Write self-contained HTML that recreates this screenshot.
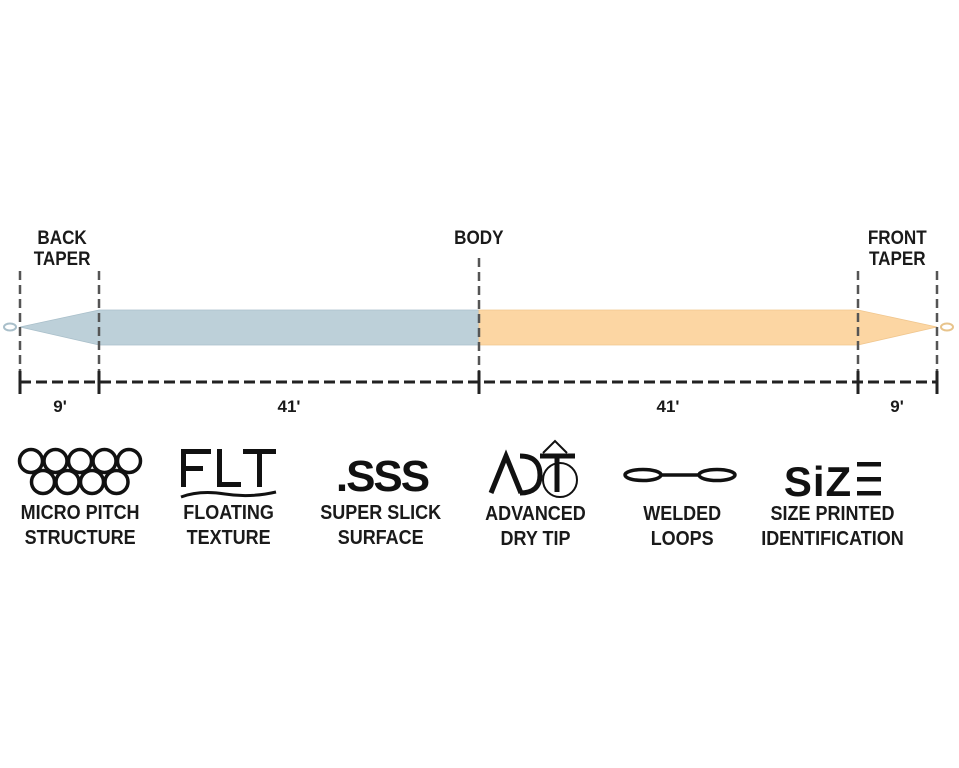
<!DOCTYPE html>
<html><head><meta charset="utf-8"><style>
html,body{margin:0;padding:0;background:#fff;}
svg{display:block;}
text{font-family:"Liberation Sans",sans-serif;font-weight:bold;fill:#1a1a1a;text-anchor:middle;}
</style></head><body>
<svg width="959" height="768" viewBox="0 0 959 768" xmlns="http://www.w3.org/2000/svg">
<rect width="959" height="768" fill="#fff"/>
<g transform="scale(0.9,1)">
<text x="69" y="244" style="font-size:19px">BACK</text>
<text x="69" y="265" style="font-size:19px">TAPER</text>
<text x="532" y="244" style="font-size:19px">BODY</text>
<text x="997" y="244" style="font-size:19px">FRONT</text>
<text x="997" y="265" style="font-size:19px">TAPER</text>
</g>
<polygon points="20,327 99,310 479,310 479,345 99,345" fill="#bdd0d9" stroke="#a9bfca" stroke-width="0.8"/>
<polygon points="479,310 858,310 937,327 858,345 479,345" fill="#fcd6a3" stroke="#f0c68e" stroke-width="0.8"/>
<ellipse cx="10" cy="327" rx="6" ry="3.5" fill="none" stroke="#a9bfca" stroke-width="2"/>
<ellipse cx="947" cy="327" rx="6" ry="3.5" fill="none" stroke="#e8c48c" stroke-width="2"/>
<g stroke="#555" stroke-width="2.5" stroke-dasharray="9,5">
<line x1="20" y1="271" x2="20" y2="372"/>
<line x1="99" y1="271" x2="99" y2="372"/>
<line x1="479" y1="258" x2="479" y2="372"/>
<line x1="858" y1="271" x2="858" y2="372"/>
<line x1="937" y1="271" x2="937" y2="372"/>
</g>
<line x1="20" y1="382" x2="937" y2="382" stroke="#222" stroke-width="3" stroke-dasharray="11,5"/>
<g stroke="#222" stroke-width="3">
<line x1="20" y1="371" x2="20" y2="394"/>
<line x1="99" y1="371" x2="99" y2="394"/>
<line x1="479" y1="371" x2="479" y2="394"/>
<line x1="858" y1="371" x2="858" y2="394"/>
<line x1="937" y1="371" x2="937" y2="394"/>
</g>
<g style="font-size:17px">
<text x="60" y="412">9'</text>
<text x="289" y="412">41'</text>
<text x="668" y="412">41'</text>
<text x="897" y="412">9'</text>
</g>
<g fill="none" stroke="#111" stroke-width="3.5">
<circle cx="31" cy="461" r="11.5"/><circle cx="55.5" cy="461" r="11.5"/><circle cx="80" cy="461" r="11.5"/><circle cx="104.5" cy="461" r="11.5"/><circle cx="129" cy="461" r="11.5"/>
<circle cx="43" cy="482" r="11.5"/><circle cx="67.5" cy="482" r="11.5"/><circle cx="92" cy="482" r="11.5"/><circle cx="116.5" cy="482" r="11.5"/>
</g>
<g fill="#111">
<rect x="181" y="449" width="30" height="5"/><rect x="181" y="449" width="5" height="38"/><rect x="181" y="466" width="22" height="5"/>
<rect x="217" y="449" width="5" height="38"/><rect x="217" y="482" width="24" height="5"/>
<rect x="243" y="449" width="33" height="5"/><rect x="257" y="449" width="5" height="38"/>
</g>
<path d="M181,497 Q200,490 225,494 T276,492" fill="none" stroke="#111" stroke-width="3"/>
<text x="382" y="491" style="font-size:44px;letter-spacing:-2px;fill:#111">.SSS</text>
<g fill="none" stroke="#111" stroke-width="5">
<path d="M491,493 L506,456 L521,493"/>
<path d="M520,456 Q540,456 540,475 Q540,493 520,493"/>
<line x1="540" y1="456" x2="575" y2="456"/>
<line x1="557" y1="456" x2="557" y2="492"/>
</g>
<circle cx="560" cy="480" r="17" fill="none" stroke="#111" stroke-width="2"/>
<path d="M543,453 L555,441 L567,453" fill="none" stroke="#111" stroke-width="2"/>
<g fill="none" stroke="#111" stroke-width="3.5">
<ellipse cx="643" cy="475" rx="18" ry="5.5"/>
<ellipse cx="717" cy="475" rx="18" ry="5.5"/>
<line x1="660" y1="475" x2="700" y2="475"/>
</g>
<text x="818" y="496" style="font-size:42px;fill:#111;letter-spacing:1px">SiZ</text>
<g fill="#111"><rect x="857" y="462" width="24" height="4.5"/><rect x="857" y="477" width="24" height="4.5"/><rect x="857" y="491" width="24" height="4.5"/></g>
<g transform="scale(0.9,1)" style="font-size:20px">
<text x="89" y="519">MICRO PITCH</text><text x="89" y="544">STRUCTURE</text>
<text x="254" y="519">FLOATING</text><text x="254" y="544">TEXTURE</text>
<text x="423" y="519">SUPER SLICK</text><text x="423" y="544">SURFACE</text>
<text x="595" y="520">ADVANCED</text><text x="595" y="545">DRY TIP</text>
<text x="758" y="520">WELDED</text><text x="758" y="545">LOOPS</text>
<text x="925" y="520">SIZE PRINTED</text><text x="925" y="545">IDENTIFICATION</text>
</g>
</svg>
</body></html>
